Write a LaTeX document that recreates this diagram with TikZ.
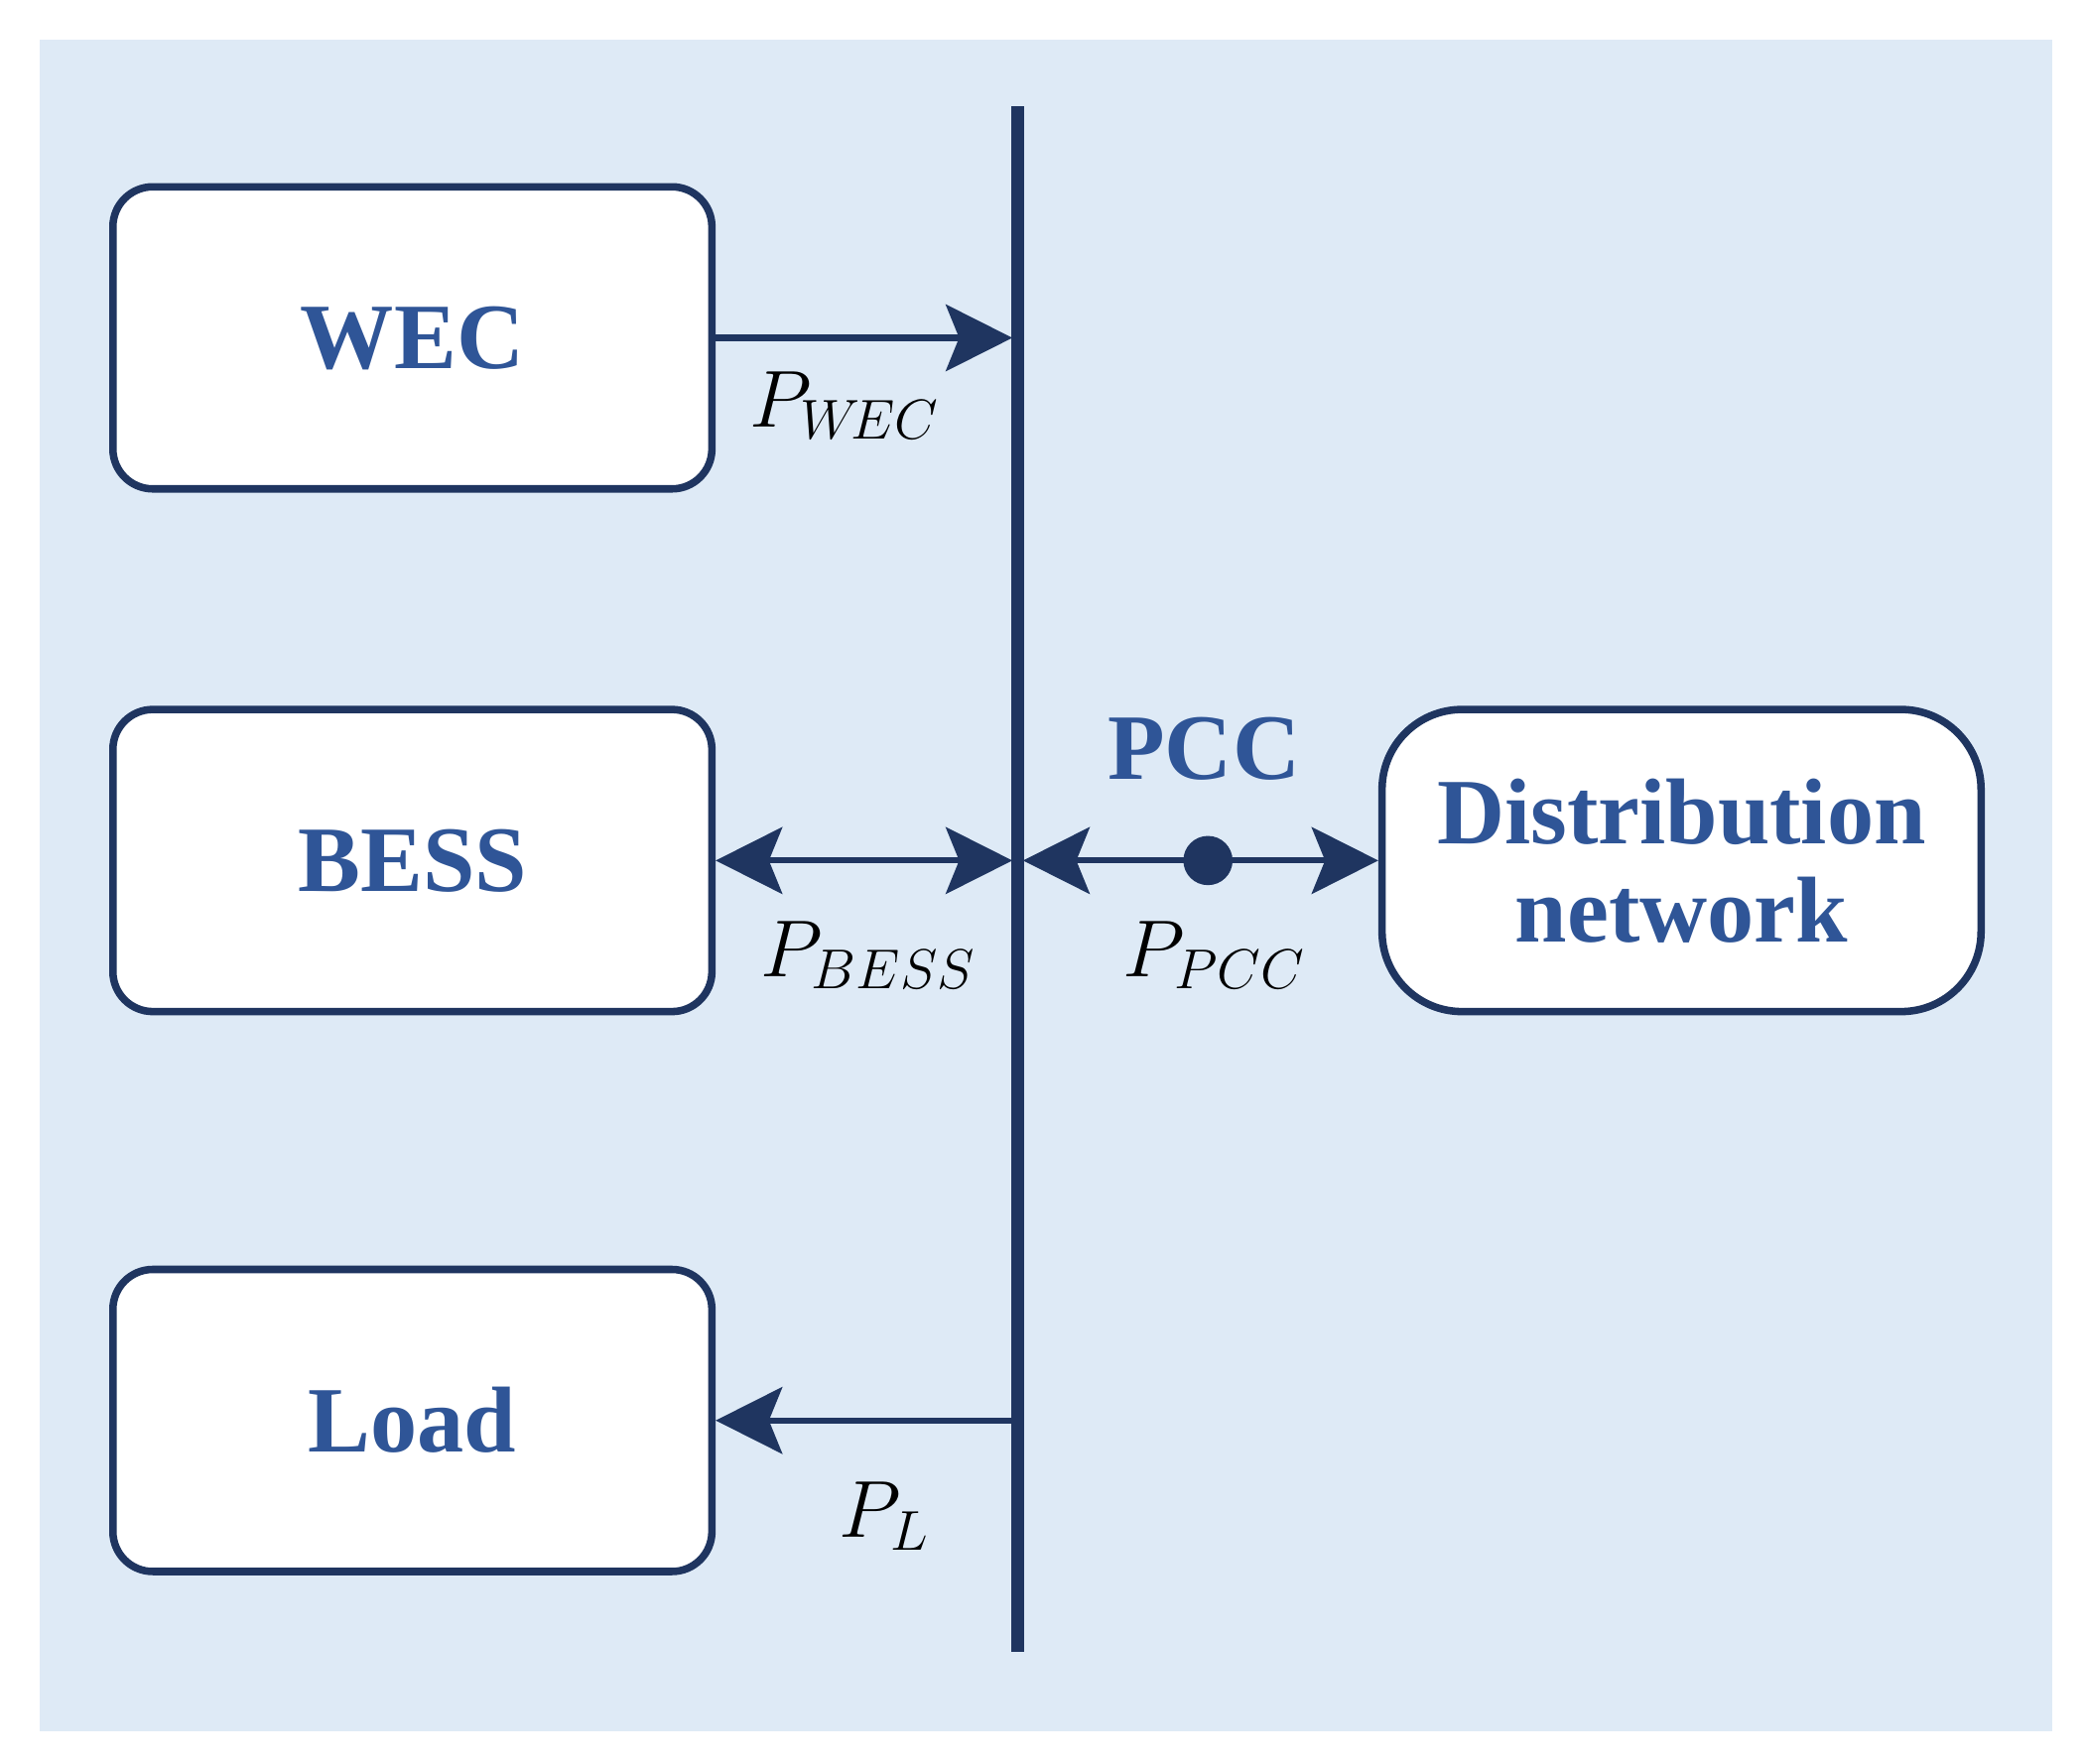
\documentclass[tikz,border=0pt]{standalone}
\usepackage{fontspec}
\setmainfont{Liberation Serif}
\usetikzlibrary{arrows.meta}
\definecolor{bg}{HTML}{DEEAF6}
\definecolor{ln}{HTML}{1F3560}
\definecolor{tx}{HTML}{2F5597}
\begin{document}
\begin{tikzpicture}[x=0.01cm,y=-0.01cm,
 box/.style={draw=ln,line width=1.6pt,fill=white,rounded corners=0.3cm,minimum width=4.5cm,minimum height=2.27cm,text=tx,font=\fontsize{20}{23}\selectfont\bfseries,align=center},
 ar/.style={draw=ln,line width=1.3pt,-{Stealth[length=0.5cm,width=0.5cm,inset=0.1cm]}},
 lab/.style={font=\fontsize{17}{20}\selectfont}]
\fill[white] (0,0) rectangle (1568,1326);
\fill[bg] (30,30) rectangle (1543,1302);
\useasboundingbox (0,0) rectangle (1568,1326);
\node[box] (wec) at (310,254) {WEC};
\node[box] (bess) at (310,647) {BESS};
\node[box] (load) at (310,1068) {Load};
\node[box,rounded corners=0.6cm] (dist) at (1264,647) {Distribution\\[-2pt]network};
\coordinate (top) at (765,80); \coordinate (bot) at (765,1242);
\draw[ln,line width=2.8pt] (top) -- (bot);
\coordinate (bw) at (761,254); \coordinate (bb) at (761,647); \coordinate (bl) at (761,1068); \coordinate (br) at (769,647);
\draw[ar] (wec.east) -- (bw);
\draw[ar,{Stealth[length=0.5cm,width=0.5cm,inset=0.1cm]}-{Stealth[length=0.5cm,width=0.5cm,inset=0.1cm]}] (bess.east) -- (bb);
\draw[ar] (bl) -- (load.east);
\draw[ar,{Stealth[length=0.5cm,width=0.5cm,inset=0.1cm]}-{Stealth[length=0.5cm,width=0.5cm,inset=0.1cm]}] (br) -- (dist.west);
\node[circle,fill=ln,inner sep=0pt,minimum size=0.37cm] (dot) at (908,647) {};
\node[text=tx,font=\fontsize{20}{23}\selectfont\bfseries] (pcc) at (905,563) {PCC};
\node[lab] (l1) at (635,305) {$P_{W\!EC}$};
\node[lab] (l2) at (653,718) {$P_{BESS}$};
\node[lab] (l3) at (913,718) {$P_{PCC}$};
\node[lab] (l4) at (665,1140) {$P_{L}$};
\end{tikzpicture}
\end{document}
